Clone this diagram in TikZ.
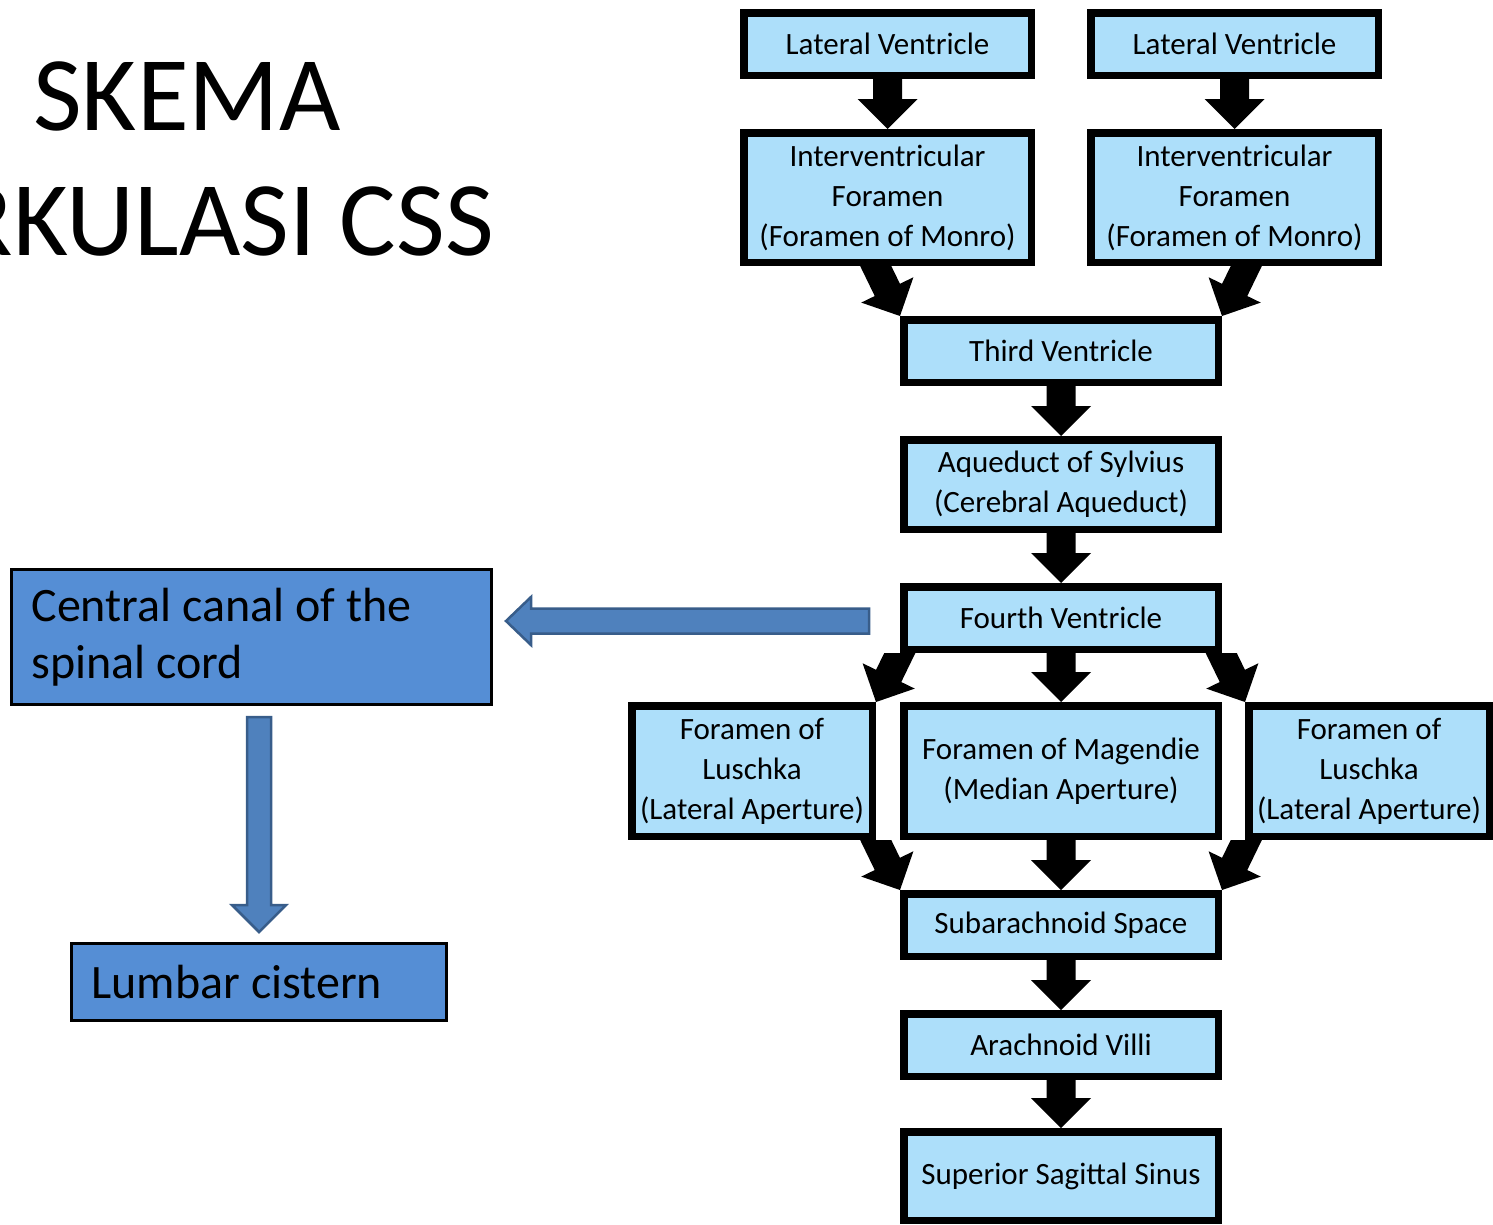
\documentclass[tikz,border=0pt]{standalone}
\usepackage{fontspec}
\setmainfont{Carlito}
\usetikzlibrary{calc}
\pgfdeclarelayer{background}
\pgfsetlayers{background,main}

\definecolor{paleblue}{RGB}{173,223,250}
\definecolor{midblue}{RGB}{85,142,213}
\definecolor{arrowblue}{RGB}{79,129,189}
\definecolor{arrowedge}{RGB}{56,93,138}

\tikzset{
  flowbox/.style={draw=black, line width=7.5pt, fill=paleblue, align=center,
    font=\fontsize{31}{40}\selectfont, inner sep=0pt},
  sidebox/.style={draw=black, line width=3pt, fill=midblue, align=left,
    font=\fontsize{48}{57}\selectfont, inner sep=0pt},
  blackarrow/.style={fill=black},
  bluearrow/.style={fill=arrowblue, draw=arrowedge, line width=2.5pt, line join=miter},
}

% block arrow: style, tail, tip, half shaft width, half head width, head length
\newcommand\blockarrow[6]{%
  \coordinate (ba-h) at ($(#3)!#6!(#2)$);
  \path[#1] ($(#2)!#4!90:(#3)$) -- ($(ba-h)!#4!-90:(#2)$) -- ($(ba-h)!#5!-90:(#2)$)
    -- (#3) -- ($(ba-h)!#5!90:(#2)$) -- ($(ba-h)!#4!90:(#2)$) -- ($(#2)!#4!-90:(#3)$) -- cycle;
}

\begin{document}
\begin{tikzpicture}[x=1pt, y=-1pt]
\useasboundingbox (0,0) rectangle (1493,1224);
\clip (0,0) rectangle (1493,1224);
\coordinate (origin) at (0,0);

% title
\node[font=\fontsize{106}{125}\selectfont, align=center, inner sep=0pt] (title)
  at (187,159) {SKEMA\\SIRKULASI CSS};

% flow chart boxes
\node[flowbox, minimum width=287.5pt, minimum height=62.5pt] (lvl) at (887.5,44) {Lateral Ventricle};
\node[flowbox, minimum width=287.5pt, minimum height=62.5pt] (lvr) at (1234.5,44) {Lateral Ventricle};
\node[flowbox, minimum width=287.5pt, minimum height=129.5pt] (ifl) at (887.5,197.5)
  {Interventricular\\Foramen\\(Foramen of Monro)};
\node[flowbox, minimum width=287.5pt, minimum height=129.5pt] (ifr) at (1234.5,197.5)
  {Interventricular\\Foramen\\(Foramen of Monro)};
\node[flowbox, minimum width=314.5pt, minimum height=62.5pt] (tv) at (1061,351) {Third Ventricle};
\node[flowbox, minimum width=314.5pt, minimum height=89.5pt] (aq) at (1061,484.5)
  {Aqueduct of Sylvius\\(Cerebral Aqueduct)};
\node[flowbox, minimum width=314.5pt, minimum height=62.5pt] (fv) at (1061,618) {Fourth Ventricle};
\node[flowbox, minimum width=240.5pt, minimum height=130.5pt] (lusl) at (752,771)
  {Foramen of\\Luschka\\(Lateral Aperture)};
\node[flowbox, minimum width=314.5pt, minimum height=130.5pt] (mag) at (1061,771)
  {Foramen of Magendie\\(Median Aperture)};
\node[flowbox, minimum width=240.5pt, minimum height=130.5pt] (lusr) at (1369,771)
  {Foramen of\\Luschka\\(Lateral Aperture)};
\node[flowbox, minimum width=314.5pt, minimum height=62.5pt] (sub) at (1061,925) {Subarachnoid Space};
\node[flowbox, minimum width=314.5pt, minimum height=62.5pt] (av) at (1061,1045) {Arachnoid Villi};
\node[flowbox, minimum width=314.5pt, minimum height=88.5pt] (sss) at (1061,1176) {Superior Sagittal Sinus};

% spinal boxes (normal interword spacing for the left-aligned text)
\node[sidebox, minimum width=480pt, minimum height=135pt, text width=440pt] (cc) at (251.5,637)
  {\spaceskip=0pt\relax Central canal of the\\spinal cord};
\node[sidebox, minimum width=375pt, minimum height=77pt, text width=335pt] (lc) at (259,982)
  {\spaceskip=0pt\relax Lumbar cistern};

% black flow arrows, behind the boxes
\begin{pgfonlayer}{background}
  \foreach \a/\b in {lvl/ifl, lvr/ifr, tv/aq, aq/fv, fv/mag, mag/sub, sub/av, av/sss}{
    \blockarrow{blackarrow}{\a.south}{\b.north}{14.5pt}{30pt}{30pt}
  }
  \foreach \src/\tip/\dx in {ifl/tv.north west/-34, ifr/tv.north east/34,
      fv/lusl.north east/34, fv/lusr.north west/-34,
      lusl/sub.north west/-34, lusr/sub.north east/34}{
    \coordinate (dtail) at ($(\tip)+(\dx,-70)$);
    \begin{scope}
      \clip (origin |- \src.south) rectangle (1493,1224);
      \blockarrow{blackarrow}{dtail}{\tip}{14pt}{29pt}{29pt}
    \end{scope}
  }
\end{pgfonlayer}

% blue arrows
\coordinate (ls) at ($(fv.west)+(-31,3)$);
\coordinate (le) at ($(cc.east |- ls)+(13,0)$);
\blockarrow{bluearrow}{ls}{le}{12.5pt}{24pt}{25pt}
\coordinate (ds) at ($(cc.south -| lc.north)+(0,11)$);
\coordinate (de) at ($(lc.north)+(0,-10)$);
\blockarrow{bluearrow}{ds}{de}{12pt}{27pt}{27pt}
\end{tikzpicture}
\end{document}
